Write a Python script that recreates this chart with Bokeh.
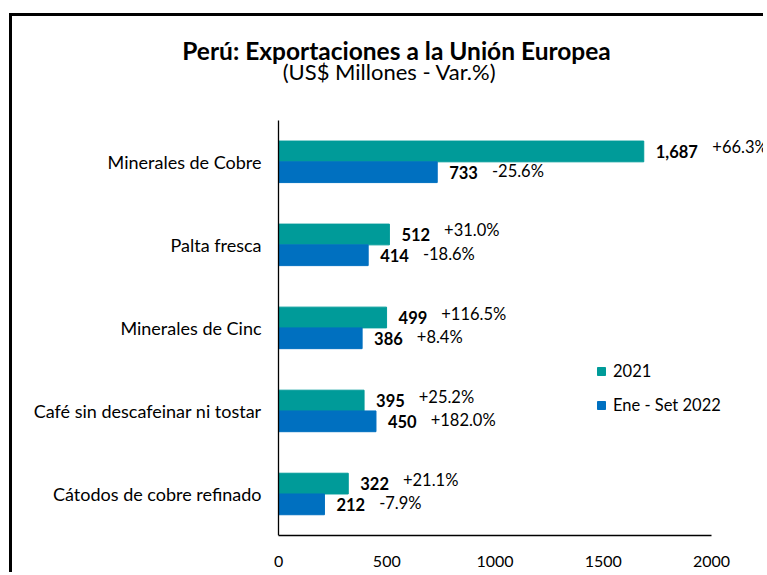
from bokeh.plotting import figure
from bokeh.models import Range1d, Label, LabelSet, Legend, LegendItem, ColumnDataSource, FixedTicker
from bokeh.transform import dodge
from bokeh.embed import file_html
from bokeh.resources import INLINE
from bokeh.core.properties import value

# ---- data ----
categories = ["Minerales de Cobre", "Palta fresca", "Minerales de Cinc",
              "Café sin descafeinar ni tostar", "Cátodos de cobre refinado"]
series_names = ["2021", "Ene - Set 2022"]
values_2021 = [1687, 512, 499, 395, 322]
values_2022 = [733, 414, 386, 450, 212]
var_2021 = ["+66.3%", "+31.0%", "+116.5%", "+25.2%", "+21.1%"]
var_2022 = ["-25.6%", "-18.6%", "+8.4%", "+182.0%", "-7.9%"]
x_ticks = [0, 500, 1000, 1500, 2000]

title_text = "Perú: Exportaciones a la Unión Europea"
subtitle_text = "(US$ Millones - Var.%)"

# ---- styles ----
TEAL = "#009B99"
BLUE = "#0070C0"
FONT = "Lato"
VAL_SIZE = 16.5
PCT_SIZE = 16.5
X_START, X_END = -1229, 2254

n = len(categories)
positions = [n - 1 - i for i in range(n)]  # first category at top


def bold_width(s, size=VAL_SIZE):
    w = 0.0
    for ch in s:
        if ch.isdigit():
            w += 0.58
        elif ch == ",":
            w += 0.26
        else:
            w += 0.5
    return w * size


def make_source(vals, pcts):
    lbl = ["{:,}".format(v) for v in vals]
    pct_off = [12 + bold_width(s) + 14 for s in lbl]
    return ColumnDataSource(dict(pos=positions, v=vals, lbl=lbl, pct=pcts, pct_off=pct_off))


src21 = make_source(values_2021, var_2021)
src22 = make_source(values_2022, var_2022)

p = figure(width=754, height=559,
           y_range=Range1d(-0.5, 5.75),
           x_range=Range1d(X_START, X_END),
           output_backend="svg", toolbar_location=None,
           min_border_left=0, min_border_right=0,
           min_border_top=0, min_border_bottom=40)
p.styles = {"border-left": "3px solid black", "border-top": "3px solid black",
            "margin-left": "9px", "margin-top": "13px"}
p.outline_line_color = None
p.xgrid.visible = False
p.ygrid.visible = False

r21 = p.hbar(y=dodge("pos", 0.125), right="v", left=0, height=0.25,
             source=src21, fill_color=TEAL, line_color=TEAL)
r22 = p.hbar(y=dodge("pos", -0.125), right="v", left=0, height=0.25,
             source=src22, fill_color=BLUE, line_color=BLUE)

for src, off, pct_dy in ((src21, 0.125, 4), (src22, -0.125, 1)):
    p.add_layout(LabelSet(x="v", y=dodge("pos", off), text="lbl", source=src,
                          x_offset=12, y_offset=0, text_baseline="middle", text_align="left",
                          text_font=value(FONT), text_font_style="bold",
                          text_font_size=f"{VAL_SIZE}px", text_color="black"))
    p.add_layout(LabelSet(x="v", y=dodge("pos", off), text="pct", source=src,
                          x_offset="pct_off", y_offset=pct_dy, text_baseline="middle", text_align="left",
                          text_font=value(FONT), text_font_size=f"{PCT_SIZE}px", text_color="black"))

# axes
p.xaxis.ticker = FixedTicker(ticks=x_ticks)
p.xaxis.bounds = (x_ticks[0], x_ticks[-1])
p.xaxis.major_tick_line_color = None
p.xaxis.minor_tick_line_color = None
p.xaxis.major_tick_out = 0
p.xaxis.major_label_standoff = 20
p.xaxis.major_label_text_font = FONT
p.xaxis.major_label_text_font_size = "16px"
p.xaxis.major_label_text_color = "black"
p.xaxis.axis_line_color = "black"
p.xaxis.axis_line_width = 1.3

p.yaxis.fixed_location = 0
p.yaxis.ticker = FixedTicker(ticks=positions)
p.yaxis.major_label_overrides = {pos: cat for pos, cat in zip(positions, categories)}
p.yaxis.bounds = (-0.5, n - 0.5)
p.yaxis.major_tick_line_color = None
p.yaxis.minor_tick_line_color = None
p.yaxis.major_tick_out = 0
p.yaxis.major_label_standoff = 17
p.yaxis.major_label_text_font = FONT
p.yaxis.major_label_text_font_size = "18px"
p.yaxis.major_label_text_color = "black"
p.yaxis.axis_line_color = "black"
p.yaxis.axis_line_width = 1.3

# titles (screen units relative to frame)
p.add_layout(Label(x=384, y=485.5, x_units="screen", y_units="screen", text=title_text,
                   text_align="center", text_baseline="alphabetic", text_font=FONT,
                   text_font_style="bold", text_font_size="24.5px", text_color="black"))
p.add_layout(Label(x=377, y=464, x_units="screen", y_units="screen", text=subtitle_text,
                   text_align="center", text_baseline="alphabetic", text_font=FONT,
                   text_font_size="22px", text_color="black"))

legend = Legend(items=[LegendItem(label=series_names[0], renderers=[r21]),
                       LegendItem(label=series_names[1], renderers=[r22])],
                location=(584, 120), orientation="vertical",
                glyph_width=10, glyph_height=10, label_height=20, spacing=14,
                label_standoff=7, padding=0, margin=0,
                border_line_color=None, background_fill_alpha=0,
                label_text_font=FONT, label_text_font_size="16.5px", label_text_color="black")
p.add_layout(legend)

open("out.html", "w").write(file_html(p, INLINE))
